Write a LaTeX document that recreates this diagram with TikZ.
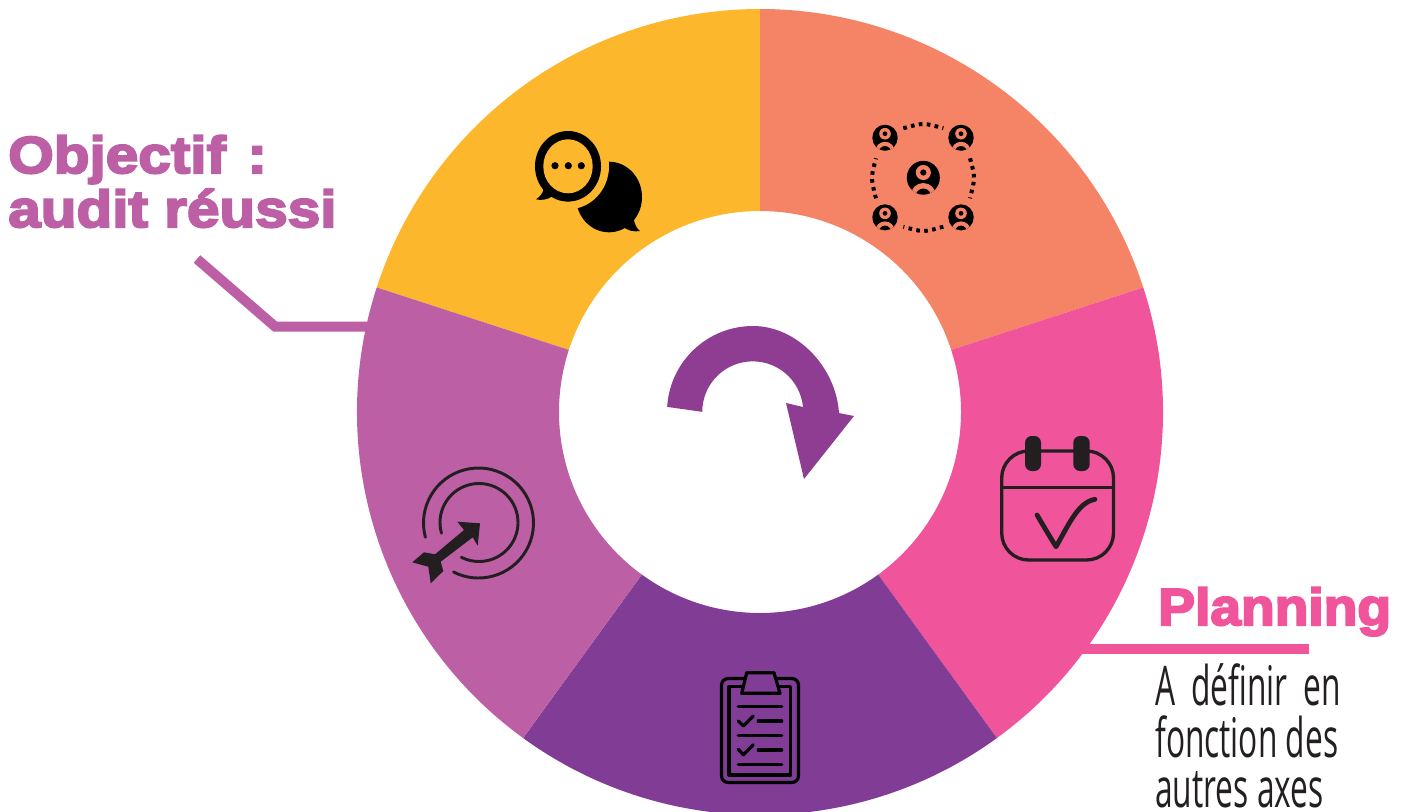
\documentclass[tikz,border=0pt]{standalone}
\usepackage{fontspec}
\newfontfamily\heavyfont{Liberation Sans Bold}[FakeBold=4,FakeStretch=1.06]
\newfontfamily\heavywide{Liberation Sans Bold}[FakeBold=4,FakeStretch=1.125]
\newfontfamily\thinfont{Open Sans}[FakeStretch=0.58]
\definecolor{cyellow}{HTML}{FDB72C}
\definecolor{csalmon}{HTML}{F58466}
\definecolor{cpink}{HTML}{F0549B}
\definecolor{cpurple}{HTML}{813C95}
\definecolor{cmauve}{HTML}{BC5FA5}
\definecolor{carrow}{HTML}{8F3D92}
\definecolor{cink}{HTML}{231F20}
\tikzset{
  heading/.style={anchor=base west,inner sep=0pt,font=\heavyfont\fontsize{39}{39}\selectfont},
  headingwide/.style={anchor=base west,inner sep=0pt,font=\heavywide\fontsize{39}{39}\selectfont},
  bodytext/.style={anchor=base west,inner sep=0pt,text=cink,font=\thinfont\fontsize{41}{41}\selectfont},
  leader/.style={line width=7.5pt,line join=miter},
  thinink/.style={draw=cink,line width=2.2pt},
  boardline/.style={draw=black,line width=2.4pt,line cap=round,line join=round},
  dots/.style={draw=black,line width=3pt,dash pattern=on 2.7pt off 3.3pt}
}
\newcommand{\ringsector}[3]{%
  \fill[#1] (760,412) ++(-#2:403) arc[start angle=-#2,end angle=-#3,radius=403]
    -- ($(760,412)+(-#3:201)$) arc[start angle=-#3,end angle=-#2,radius=201] -- cycle;}
\newcommand{\person}[3]{% x y scale
  \begin{scope}[shift={(#1,#2)},scale=#3]
    \fill[black] (0,0) ellipse[x radius=12.7,y radius=13];
    \begin{scope}
      \clip (0,0) ellipse[x radius=12.7,y radius=13];
      \fill[csalmon] (0,13.5) ellipse[x radius=9.6,y radius=9.4];
      \fill[black] (0,15.5) ellipse[x radius=6.3,y radius=7.2];
    \end{scope}
    \fill[csalmon] (0,-4) circle[radius=5.8];
    \fill[black] (0,-4) circle[radius=2.4];
  \end{scope}}
\usetikzlibrary{calc}
\begin{document}
\begin{tikzpicture}[x=0.75pt,y=-0.75pt]
\path[use as bounding box,clip] (0,0) rectangle (1408,811);
\ringsector{cyellow}{90}{162}
\ringsector{csalmon}{18}{90}
\ringsector{cpink}{-54}{18}
\ringsector{cpurple}{-126}{-54}
\ringsector{cmauve}{162}{234}

% centre arrow
\fill[carrow] (753,412) ++(-176.6:86) arc[start angle=-176.6,end angle=-90,radius=86]
  .. controls (797,326) and (836,367) .. (839,413)
  -- (854,416) -- (804,479) -- (786,403) -- (803,407)
  arc[start angle=-5.5,end angle=-180,radius=50.5] -- cycle;

% leaders
\coordinate (objA) at (197,259);
\coordinate (objB) at (275,326.5);
\coordinate (objC) at (370,326.5);
\coordinate (plaA) at (1080,649);
\coordinate (plaB) at (1309,649);
\draw[leader,cmauve] (objA) -- (objB) -- (objC);
\draw[leader,cpink] (plaA) -- (plaB);

% texts
\node[headingwide,text=cmauve] (obj1) at (8,173) {Objectif\hspace{0.1em} :};
\node[headingwide,text=cmauve] (obj2) at (8,227) {audit réussi};
\node[heading,text=cpink] (plan) at (1158,625) {Planning};
\node[bodytext] (b1) at (1155,705) {A\hspace{0.14em} définir\hspace{0.14em} en};
\node[bodytext] (b2) at (1155,757) {fonction des};
\node[bodytext] (b3) at (1155,807) {autres axes};

% chat icon
\fill[black] (609,197) ellipse[x radius=33,y radius=35.3];
\fill[black] (633.3,218) .. controls (635,225) and (637,229) .. (640,231) .. controls (634,232) and (628,231) .. (622,226) -- cycle;
\fill[cyellow] (568,166.3) ellipse[x radius=41,y radius=43];
\fill[black] (568,166.3) ellipse[x radius=33,y radius=35.3];
\fill[black] (544,188) .. controls (543,193) and (540,197) .. (536,199.3) .. controls (541,200.5) and (547,200) .. (553,196) -- cycle;
\fill[cyellow] (568,166.3) ellipse[x radius=24.7,y radius=27];
\foreach \dx in {555,568.3,581.3} \fill[black] (\dx,165.7) circle[radius=3.6];

% network icon
\draw[dots] (903.3,128.3) .. controls (923.3,122.6) .. (943.3,128.3);
\draw[dots] (970,158.3) .. controls (975.3,177.7) .. (970,198.3);
\draw[dots] (943.3,226.7) .. controls (923.3,232.4) .. (903.3,226.7);
\draw[dots] (876,198.3) .. controls (870.7,177.7) .. (876,158.3);
\person{885}{137.7}{1}
\person{961}{137.7}{1}
\person{885}{217.3}{1}
\person{961}{217.3}{1}
\person{923.3}{177.7}{1.3}

% calendar
\draw[thinink,line width=2.5pt] (1001.7,478) arc[start angle=180,end angle=270,radius=27] -- (1086.5,451) arc[start angle=-90,end angle=0,radius=27] -- (1113.5,533) arc[start angle=0,end angle=90,radius=27] -- (1028.7,560) arc[start angle=90,end angle=180,radius=27] -- cycle;
\draw[thinink] (1002,487.7) -- (1113,487.7);
\fill[cink,rounded corners=5pt] (1025,436) rectangle (1041,471);
\fill[cink,rounded corners=5pt] (1073.3,436) rectangle (1089.7,471);
\draw[cink,line width=3.6pt,line cap=round,line join=round] (1037,515) .. controls (1043,525) and (1050,537) .. (1056,546.7) .. controls (1068,526) and (1078,502) .. (1095,499.3);

% clipboard
\draw[boardline,rounded corners=5pt] (721.5,678.5) rectangle (798.5,782.5);
\draw[boardline] (729,686.7) rectangle (790.7,775);
\filldraw[boardline,fill=cpurple] (746.7,672.7) -- (774,672.7) -- (780,693.3) -- (741.7,693.3) -- cycle;
\draw[boardline] (738.3,706.7) -- (781.7,706.7);
\draw[boardline] (758.3,721) -- (781.7,721);
\draw[boardline] (738.3,721) -- (743.3,726) -- (753.3,716);
\draw[boardline] (738.3,735.3) -- (781.7,735.3);
\draw[boardline] (758.3,750) -- (781.7,750);
\draw[boardline] (738.3,749.3) -- (743.3,754.7) -- (753.3,744.7);
\draw[boardline] (738.3,764.3) -- (781.7,764.3);

% target
\draw[thinink,line cap=round] (478.5,523) ++(-195:55) arc[start angle=-195,end angle=117,radius=55];
\draw[thinink,line cap=round] (479,522.5) ++(-196:39) arc[start angle=-196,end angle=117,radius=39];
\fill[cink] (480,523.3) -- (457.3,521.7) -- (464,530) -- (435,554.3) -- (424,552.3) -- (412.3,562.3) -- (428.3,566.7) -- (430.7,583.3) -- (443.3,571) -- (440.7,561.7) -- (472.7,537.3) -- (477.7,545.7) -- cycle;
\end{tikzpicture}
\end{document}
